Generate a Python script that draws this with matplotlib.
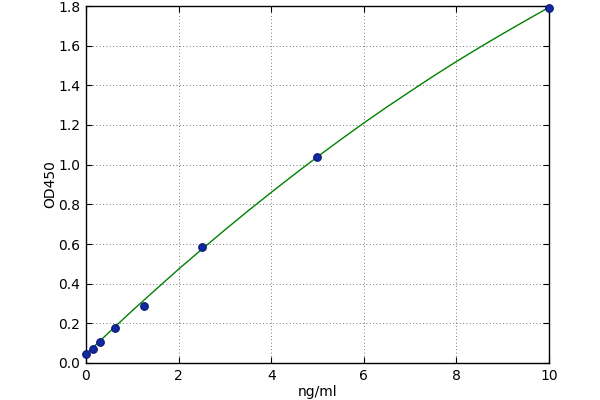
import matplotlib
matplotlib.use("Agg")
import matplotlib.pyplot as plt

# Standard points
conc = [0, 0.156, 0.312, 0.625, 1.25, 2.5, 5, 10]
od = [0.045, 0.072, 0.106, 0.178, 0.288, 0.585, 1.04, 1.79]

# Fitted curve
curve_x = [0, 0.5, 1, 1.5, 2, 2.5, 3, 3.5, 4, 4.5, 5, 5.5, 6, 6.5, 7, 7.5, 8, 8.5, 9, 9.5, 10]
curve_y = [0.045, 0.155, 0.264, 0.369, 0.473, 0.573, 0.671, 0.767, 0.860, 0.951, 1.040,
           1.126, 1.210, 1.291, 1.369, 1.446, 1.520, 1.591, 1.660, 1.727, 1.793]

x_ticks = [0, 2, 4, 6, 8, 10]
y_ticks = [0.0, 0.2, 0.4, 0.6, 0.8, 1.0, 1.2, 1.4, 1.6, 1.8]

fig = plt.figure(figsize=(6, 4), dpi=100)
ax = fig.add_axes([0.1433, 0.0925, 0.7717, 0.8925])
ax.plot(curve_x, curve_y, color="#008000", lw=1.0, zorder=2)
ax.plot(conc, od, "o", color="#1028a0", mec="#0a1a70", mew=0.8, ms=5.5, zorder=3, clip_on=False)
ax.set_xlim(0, 10)
ax.set_ylim(0, 1.8)
ax.set_xticks(x_ticks)
ax.set_yticks(y_ticks)
ax.set_yticklabels([f"{v:.1f}" for v in y_ticks])
ax.grid(True, linestyle=(0, (1, 3)), color="black", lw=0.6, alpha=0.7)
ax.tick_params(direction="in", top=True, right=True, length=4, labelsize=10, pad=4)
for s in ax.spines.values():
    s.set_linewidth(1.0)
ax.set_xlabel("ng/ml", fontsize=10, labelpad=2)
ax.set_ylabel("OD450", fontsize=10, labelpad=1)
fig.savefig("out.png", dpi=100)
